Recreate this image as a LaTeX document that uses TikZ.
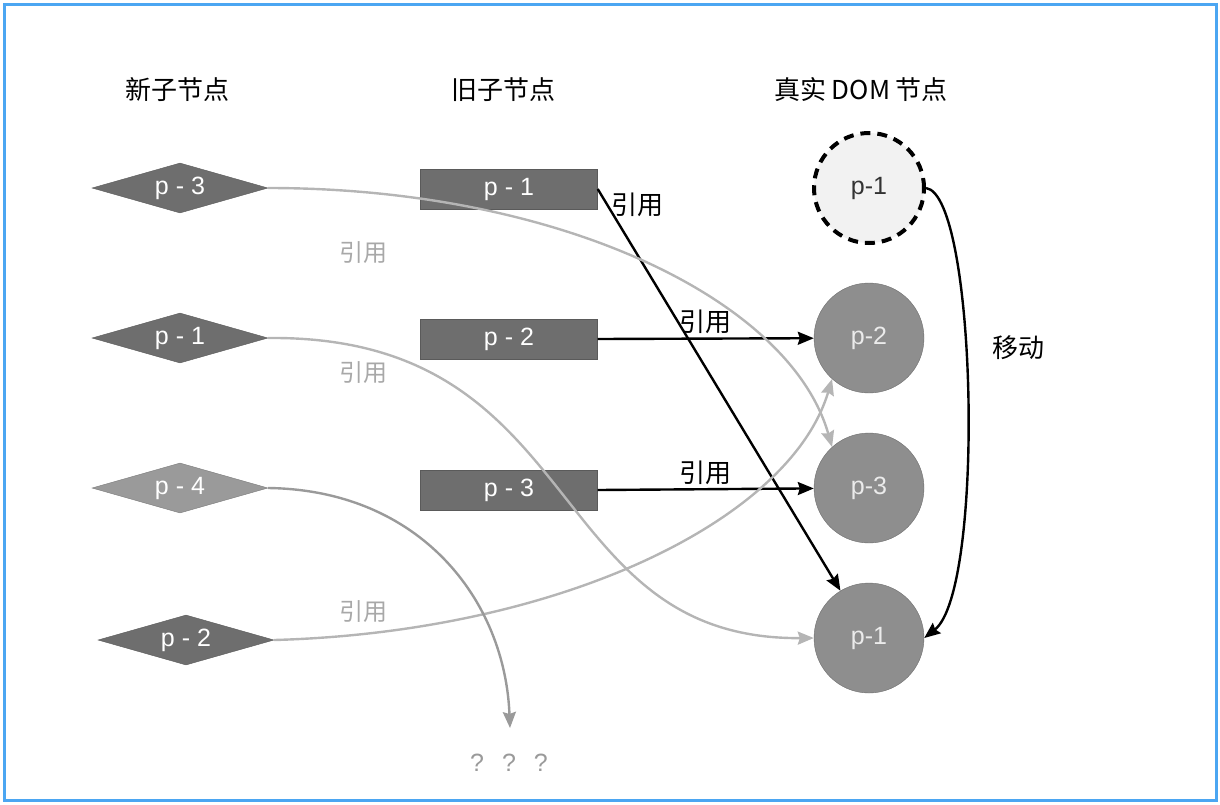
\documentclass[tikz,border=0pt]{standalone}
\usepackage{fontspec}
\setmainfont{Liberation Sans}
\newfontfamily\cjk{Noto Sans CJK SC}
\usetikzlibrary{shapes,arrows.meta,positioning}
\definecolor{frameblue}{HTML}{4BA6F2}
\definecolor{darkfill}{HTML}{6E6E6E}
\definecolor{darkline}{HTML}{5A5A5A}
\definecolor{lightfill}{HTML}{9A9A9A}
\definecolor{lightline}{HTML}{7A7A7A}
\definecolor{circfill}{HTML}{8E8E8E}
\definecolor{circline}{HTML}{6E6E6E}
\definecolor{palefill}{HTML}{F2F2F2}
\definecolor{linegrey}{HTML}{B5B5B5}
\definecolor{midgrey}{HTML}{9A9A9A}
\definecolor{labelgrey}{HTML}{A8A8A8}
\tikzstyle{every picture}=[x=1pt, y=1pt, node distance=150pt,%
	>={Stealth[length=16pt,width=13pt,inset=2pt]}]
\tikzstyle{newnode}=[diamond, aspect=3.5, minimum width=176pt, minimum height=50pt,%
	inner sep=0pt, fill=darkfill, draw=darkline, text=white, font=\fontsize{25pt}{28pt}\selectfont]
\tikzstyle{oldnode}=[rectangle, minimum width=177pt, minimum height=40pt,%
	fill=darkfill, draw=darkline, text=white, font=\fontsize{25pt}{28pt}\selectfont]
\tikzstyle{domnode}=[circle, minimum size=110pt, inner sep=0pt, fill=circfill,%
	draw=circline, text=black!8, font=\fontsize{25pt}{28pt}\selectfont]
\tikzstyle{title}=[font=\cjk\fontsize{26pt}{30pt}\selectfont]
\tikzstyle{reflabel}=[font=\cjk\fontsize{26pt}{30pt}\selectfont]
\tikzstyle{greylabel}=[text=labelgrey, font=\cjk\fontsize{24pt}{28pt}\selectfont]
\tikzstyle{blackref}=[->, line width=2.4pt]
\tikzstyle{greyref}=[->, line width=2.4pt, draw=linegrey]

\begin{document}
\begin{tikzpicture}
	\useasboundingbox (0,0) rectangle (1220,-804);
	\draw[frameblue, line width=3pt] (4,-4) rectangle (1216,-800);
	% column titles
	\node[title] (TN) at (177,-90) {新子节点};
	\node[title] (TO) at (503,-90) {旧子节点};
	\node[title] (TD) at (861,-90) {真实 DOM 节点};
	% new children
	\node[newnode] (N3) at (180,-188) {p - 3};
	\node[newnode] (N1) [below of=N3] {p - 1};
	\node[newnode, fill=lightfill, draw=lightline] (N4) [below of=N1] {p - 4};
	\node[newnode] (N2) [below of=N4, xshift=6pt, yshift=-2pt] {p - 2};
	% old children
	\node[oldnode] (O1) at (509,-189) {p - 1};
	\node[oldnode] (O2) [below of=O1] {p - 2};
	\node[oldnode] (O3) [below of=O2, yshift=-1pt] {p - 3};
	% real DOM
	\node[domnode, fill=palefill, draw=black, text=black!80, line width=4pt,%
		dash pattern=on 10pt off 7pt] (R0) at (869,-188) {p-1};
	\node[domnode] (R2) [below of=R0] {p-2};
	\node[domnode] (R3) [below of=R2] {p-3};
	\node[domnode] (R1) [below of=R3] {p-1};
	\coordinate (Q) at (510,-728);
	\node[text=midgrey, font=\fontsize{25pt}{28pt}\selectfont] (QQ) at (509,-763) {?\hspace{18pt}?\hspace{18pt}?};
	% references
	\draw[blackref] (O1.east) -- node[reflabel, right, pos=0.04] {引用} (R1);
	\draw[blackref] (O2.east) -- node[reflabel, above] {引用} (R2);
	\draw[blackref] (O3.east) -- node[reflabel, above] {引用} (R3);
	\draw[blackref] (R0.east) .. controls +(51,-7) and +(61,48) .. node[reflabel, right=22pt, pos=0.42] {移动} (R1.east);
	\draw[greyref] (N3.east) .. controls +(292,0) and +(-42,147) .. (R3.132);
	\draw[greyref] (N1.east) .. controls +(322,3) and +(-274,-2) .. (R1.west);
	\draw[greyref] (N2.east) .. controls +(286,8) and +(-42,-141) .. (R2.228);
	\draw[greyref, draw=midgrey] (N4.east) .. controls +(152,-2) and +(-5,128) .. (Q);
	\node[greylabel] (L3) at (363,-253) {引用};
	\node[greylabel] (L1) at (363,-373) {引用};
	\node[greylabel] (L2) at (363,-612) {引用};
\end{tikzpicture}
\end{document}
